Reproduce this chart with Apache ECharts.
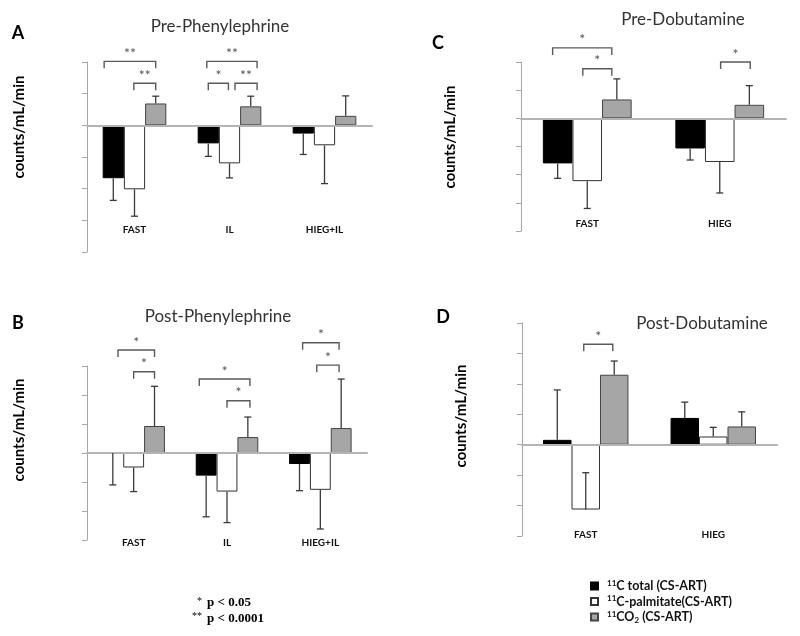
<!DOCTYPE html>
<html>
<head>
<meta charset="utf-8">
<script src="https://cdn.jsdelivr.net/npm/echarts@6/dist/echarts.min.js"></script>
<style>
  html, body { margin: 0; padding: 0; background: #fff; }
  #chart { width: 800px; height: 636px; }
</style>
</head>
<body>
<div id="chart"></div>
<script>
// series names
const NAME_TOTAL = "11C total (CS-ART)";
const NAME_PALM = "11C-palmitate(CS-ART)";
const NAME_CO2 = "11CO2 (CS-ART)";

// A: Pre-Phenylephrine
const catsA = ["FAST", "IL", "HIEG+IL"];
const totalA = [-1.67, -0.57, -0.26];
const palmA = [-2.02, -1.2, -0.63];
const co2A = [0.69, 0.6, 0.3];
const totalErrA = [-2.37, -0.98, -0.92]; // whisker end
const palmErrA = [-2.87, -1.66, -1.84];
const co2ErrA = [0.92, 0.92, 0.93];
// [category, from bar, to bar, level, stars]
const bracketsA = [
	[0, -0.43, 2, 2.02, 2],
	[0, 0.97, 2, 1.33, 2],
	[1, -0.07, 2.3, 2.02, 2],
	[1, 0, 0.95, 1.33, 1],
	[1, 1.26, 2.3, 1.33, 2],
];

// B: Post-Phenylephrine
const catsB = ["FAST", "IL", "HIEG+IL"];
const totalB = [0, -0.78, -0.38];
const palmB = [-0.5, -1.33, -1.27];
const co2B = [0.93, 0.55, 0.86];
const totalErrB = [-1.1, -2.2, -1.3];
const palmErrB = [-1.33, -2.4, -2.62];
const co2ErrB = [2.3, 1.24, 2.55];
const bracketsB = [
	[0, 0.25, 2, 3.55, 1],
	[0, 1, 2, 2.8, 1],
	[1, -0.33, 2.1, 2.55, 1],
	[1, 1, 2.1, 1.8, 1],
	[2, 0.15, 1.9, 3.8, 1],
	[2, 0.83, 1.9, 3.03, 1],
];

// C: Pre-Dobutamine
const catsC = ["FAST", "HIEG"];
const totalC = [-1.6, -1.07];
const palmC = [-2.23, -1.55];
const co2C = [0.67, 0.48];
const totalErrC = [-2.13, -1.48];
const palmErrC = [-3.2, -2.65];
const co2ErrC = [1.4, 1.16];
const bracketsC = [
	[0, -0.17, 1.83, 2.5, 1],
	[0, 0.85, 1.83, 1.76, 1],
	[1, 1.03, 2.03, 2.0, 1],
];

// D: Post-Dobutamine
const catsD = ["FAST", "HIEG"];
const totalD = [0.16, 0.88];
const palmD = [-2.13, 0.27];
const co2D = [2.3, 0.6];
const totalErrD = [1.8, 1.4];
const palmErrD = [-0.92, 0.57];
const co2ErrD = [2.75, 1.08];
const bracketsD = [[0, 0.93, 1.95, 3.3, 1]];

const CAT_GAP = 0.33;

var chart = echarts.init(document.getElementById("chart"), null, { renderer: "canvas" });

const panels = [
	{
		cats: catsA, vals: [totalA, palmA, co2A], errs: [totalErrA, palmErrA, co2ErrA], brackets: bracketsA,
		grid: { left: 87, top: 62, width: 285, height: 190 },
		y: { min: -4, max: 2 }, labelMargin: -27,
	},
	{
		cats: catsB, vals: [totalB, palmB, co2B], errs: [totalErrB, palmErrB, co2ErrB], brackets: bracketsB,
		grid: { left: 87, top: 366, width: 280, height: 174 },
		y: { min: -3, max: 3 }, labelMargin: -2,
	},
	{
		cats: catsC, vals: [totalC, palmC, co2C], errs: [totalErrC, palmErrC, co2ErrC], brackets: bracketsC,
		grid: { left: 521, top: 62, width: 265, height: 169 },
		y: { min: -4, max: 2 }, labelMargin: -12,
	},
	{
		cats: catsD, vals: [totalD, palmD, co2D], errs: [totalErrD, palmErrD, co2ErrD], brackets: bracketsD,
		grid: { left: 522, top: 323, width: 255, height: 213 },
		y: { min: -3, max: 4 }, labelMargin: -6,
	},
];

const barStyles = [
	{ color: "#000", borderColor: "#000", borderWidth: 1 },
	{ color: "#fff", borderColor: "#333", borderWidth: 1 },
	{ color: "#a6a6a6", borderColor: "#444", borderWidth: 1 },
];
const names = [NAME_TOTAL, NAME_PALM, NAME_CO2];

// x centre of bar "pos" (0..2) inside category
function barX(api, cat, pos) {
	const c = api.coord([cat, 0])[0];
	const band = api.size([1, 0])[0];
	const w = (band * (1 - CAT_GAP)) / 3;
	return c + (pos - 1) * w;
}

var grids = [], xAxes = [], yAxes = [], series = [];
panels.forEach((p, k) => {
	grids.push(p.grid);
	// axis that draws the zero line (on top of the bars)
	xAxes.push({
		gridIndex: k, type: "category", data: p.cats, position: "top", z: 4,
		axisLine: { onZero: true, lineStyle: { color: "#b4b4b4", width: 2 } },
		axisTick: { show: false }, axisLabel: { show: false },
	});
	// axis that carries the category labels
	xAxes.push({
		gridIndex: k, type: "category", data: p.cats, position: "bottom",
		axisLine: { show: false, onZero: false }, axisTick: { show: false },
		axisLabel: { margin: p.labelMargin, fontSize: 10, fontWeight: "bold", color: "#111" },
	});
	yAxes.push({
		gridIndex: k, type: "value", min: p.y.min, max: p.y.max, interval: 1,
		axisLine: { show: true, lineStyle: { color: "#a6a6a6", width: 1 } },
		axisTick: { show: true, length: 5, lineStyle: { color: "#a6a6a6" } },
		axisLabel: { show: false }, splitLine: { show: false },
	});
	p.vals.forEach((v, i) => {
		series.push({
			name: names[i], type: "bar", xAxisIndex: 2 * k, yAxisIndex: k,
			data: v, barGap: 0, barCategoryGap: CAT_GAP * 100 + "%",
			itemStyle: barStyles[i], animation: false, silent: true,
		});
	});
	// error bars
	var errData = [];
	p.errs.forEach((e, i) => {
		e.forEach((end, c) => errData.push([c, i, p.vals[i][c], end]));
	});
	series.push({
		type: "custom", xAxisIndex: 2 * k, yAxisIndex: k, z: 5, clip: false, animation: false, silent: true,
		data: errData, encode: { x: 0, y: [2, 3] },
		renderItem: function (params, api) {
			const x = barX(api, api.value(0), api.value(1));
			const y0 = api.coord([api.value(0), api.value(2)])[1];
			const y1 = api.coord([api.value(0), api.value(3)])[1];
			const st = { stroke: "#3a3a3a", lineWidth: 1.3 };
			return {
				type: "group",
				children: [
					{ type: "line", shape: { x1: x, y1: y0, x2: x, y2: y1 }, style: st },
					{ type: "line", shape: { x1: x - 3.5, y1: y1, x2: x + 3.5, y2: y1 }, style: st },
				],
			};
		},
	});
	// significance brackets
	series.push({
		type: "custom", xAxisIndex: 2 * k, yAxisIndex: k, z: 6, clip: false, animation: false, silent: true,
		data: p.brackets, encode: { x: 0, y: 3 },
		renderItem: function (params, api) {
			const cat = api.value(0);
			const xa = barX(api, cat, api.value(1));
			const xb = barX(api, cat, api.value(2));
			const y = api.coord([cat, api.value(3)])[1];
			const stars = api.value(4) === 2 ? "**" : "*";
			return {
				type: "group",
				children: [
					{
						type: "polyline",
						shape: { points: [[xa, y + 7], [xa, y], [xb, y], [xb, y + 7]] },
						style: { stroke: "#5a5a5a", lineWidth: 1.4, fill: null },
					},
					{
						type: "text",
						style: {
							text: stars, x: (xa + xb) / 2, y: y - 8, align: "center", verticalAlign: "middle",
							fontSize: 14, fill: "#555", fontFamily: "Lato",
						},
					},
				],
			};
		},
	});
});

function label(text, x, y, size, weight, color, rot) {
	return {
		type: "text", x: x, y: y, rotation: rot || 0,
		style: {
			text: text, fontSize: size, fontWeight: weight, fill: color,
			fontFamily: "Lato", align: "center", verticalAlign: "middle",
		},
	};
}

const V = Math.PI / 2;

var option = {
	animation: false,
	textStyle: { fontFamily: "Lato" },
	grid: grids,
	xAxis: xAxes,
	yAxis: yAxes,
	series: series,
	legend: {
		data: names, orient: "vertical", left: 585, top: 574,
		itemWidth: 7, itemHeight: 7, itemGap: 2, icon: "rect",
		textStyle: {
			fontSize: 12, fontWeight: "bold", color: "#111", padding: [0, 0, 0, 4],
			rich: {
				sup: { fontSize: 8, fontWeight: "bold", padding: [0, 0, 6, 0], color: "#111" },
				sub: { fontSize: 8, fontWeight: "bold", padding: [6, 0, 0, 0], color: "#111" },
				t: { fontSize: 12.5, fontWeight: "bold", color: "#111" },
			},
		},
		formatter: function (name) {
			if (name === NAME_TOTAL) return "{sup|11}{t|C total (CS-ART)}";
			if (name === NAME_PALM) return "{sup|11}{t|C-palmitate(CS-ART)}";
			return "{sup|11}{t|CO}{sub|2}{t| (CS-ART)}";
		},
	},
	graphic: [
		label("A", 18, 33, 18, "bold", "#000"),
		label("B", 18, 323, 18, "bold", "#000"),
		label("C", 438, 43, 18, "bold", "#000"),
		label("D", 443, 317, 18, "bold", "#000"),
		label("Pre-Phenylephrine", 220, 27, 17, "normal", "#333"),
		label("Post-Phenylephrine", 218, 317, 17, "normal", "#333"),
		label("Pre-Dobutamine", 683, 20, 17, "normal", "#333"),
		label("Post-Dobutamine", 702, 324, 17, "normal", "#333"),
		label("counts/mL/min", 19, 127, 15, "bold", "#000", V),
		label("counts/mL/min", 19, 430, 15, "bold", "#000", V),
		label("counts/mL/min", 450, 137, 15, "bold", "#000", V),
		label("counts/mL/min", 461, 416, 15, "bold", "#000", V),
		{
			type: "text", x: 202, y: 601,
			style: { text: "*", fontSize: 10, fill: "#000", fontFamily: "Liberation Serif", align: "right", verticalAlign: "middle" },
		},
		{
			type: "text", x: 202, y: 616,
			style: { text: "**", fontSize: 10, fill: "#000", fontFamily: "Liberation Serif", align: "right", verticalAlign: "middle" },
		},
		{
			type: "text", x: 207, y: 603,
			style: { text: "p < 0.05", fontSize: 13, fontWeight: "bold", fill: "#000", fontFamily: "Liberation Serif", align: "left", verticalAlign: "middle" },
		},
		{
			type: "text", x: 207, y: 619,
			style: { text: "p < 0.0001", fontSize: 13, fontWeight: "bold", fill: "#000", fontFamily: "Liberation Serif", align: "left", verticalAlign: "middle" },
		},
	],
};

option && chart.setOption(option);
</script>
</body>
</html>
